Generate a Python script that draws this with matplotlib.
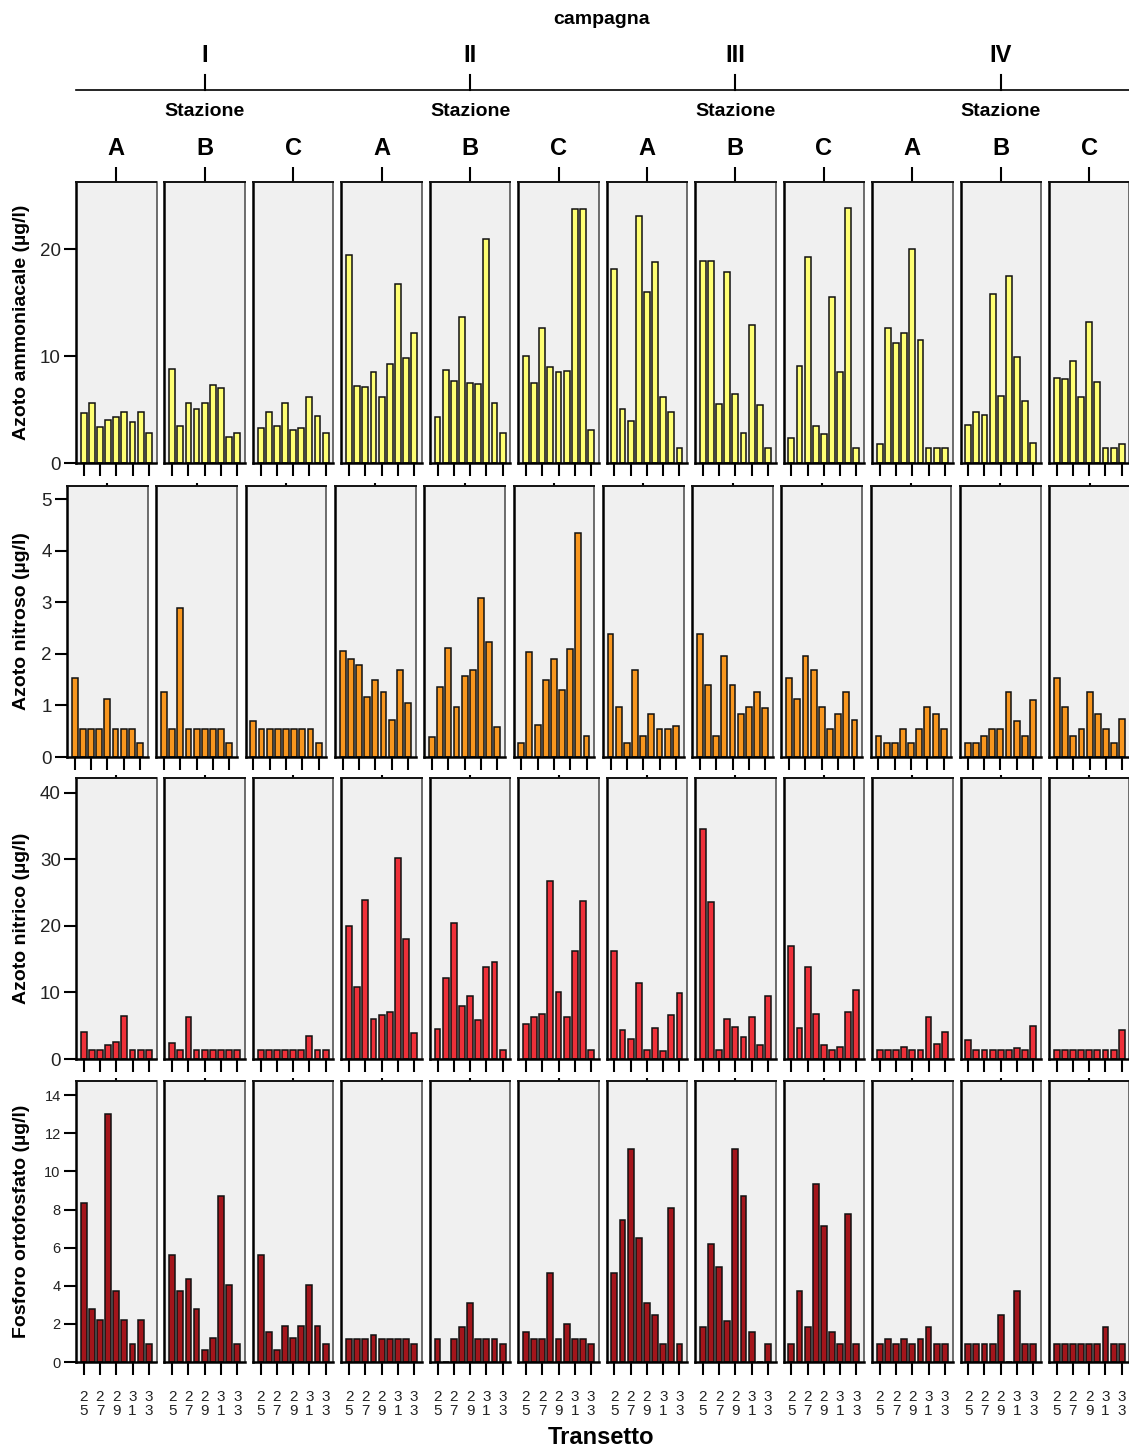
import matplotlib
matplotlib.use("Agg")
import matplotlib.pyplot as plt
from matplotlib.lines import Line2D

W, H = 1129, 1449
DPI = 100

CAMPAGNE = ["I", "II", "III", "IV"]
STAZIONI = ["A", "B", "C"]
TRANSETTI = [25, 26, 27, 28, 29, 30, 31, 32, 33]
TICK_TRANSETTI = [25, 27, 29, 31, 33]
TICK_LABELS = ["2\n5", "2\n7", "2\n9", "3\n1", "3\n3"]

# 12 panels per variable, order I-A, I-B, I-C, II-A, ..., IV-C; 9 transects each
ammoniacale = [
    [4.7, 5.6, 3.4, 4.0, 4.3, 4.8, 3.8, 4.8, 2.8],
    [8.8, 3.5, 5.6, 5.1, 5.6, 7.3, 7.0, 2.4, 2.8],
    [3.3, 4.8, 3.5, 5.6, 3.1, 3.3, 6.2, 4.4, 2.8],
    [19.5, 7.2, 7.1, 8.5, 6.2, 9.3, 16.8, 9.8, 12.2],
    [4.3, 8.7, 7.7, 13.7, 7.5, 7.4, 21.0, 5.6, 2.8],
    [10.0, 7.5, 12.6, 9.0, 8.5, 8.6, 23.8, 23.8, 3.1],
    [18.2, 5.1, 3.9, 23.1, 16.0, 18.8, 6.2, 4.8, 1.4],
    [18.9, 18.9, 5.5, 17.9, 6.5, 2.8, 12.9, 5.4, 1.4],
    [2.3, 9.1, 19.3, 3.5, 2.7, 15.5, 8.5, 23.9, 1.4],
    [1.8, 12.6, 11.2, 12.2, 20.0, 11.5, 1.4, 1.4, 1.4],
    [3.6, 4.8, 4.5, 15.8, 6.3, 17.5, 9.9, 5.8, 1.9],
    [8.0, 7.9, 9.5, 6.2, 13.2, 7.6, 1.4, 1.4, 1.8],
]
nitroso = [
    [1.54, 0.55, 0.55, 0.55, 1.12, 0.55, 0.55, 0.55, 0.27],
    [1.26, 0.55, 2.89, 0.55, 0.55, 0.55, 0.55, 0.55, 0.27],
    [0.70, 0.55, 0.55, 0.55, 0.55, 0.55, 0.55, 0.55, 0.27],
    [2.06, 1.90, 1.79, 1.17, 1.49, 1.26, 0.71, 1.68, 1.05],
    [0.39, 1.36, 2.12, 0.98, 1.58, 1.69, 3.09, 2.24, 0.58],
    [0.27, 2.04, 0.63, 1.49, 1.90, 1.30, 2.10, 4.35, 0.41],
    [2.38, 0.98, 0.27, 1.68, 0.41, 0.84, 0.55, 0.55, 0.60],
    [2.38, 1.40, 0.41, 1.97, 1.40, 0.84, 0.98, 1.26, 0.96],
    [1.54, 1.12, 1.97, 1.68, 0.98, 0.55, 0.84, 1.26, 0.72],
    [0.41, 0.27, 0.27, 0.55, 0.27, 0.55, 0.98, 0.84, 0.55],
    [0.27, 0.27, 0.41, 0.55, 0.55, 1.26, 0.70, 0.41, 1.10],
    [1.54, 0.98, 0.41, 0.55, 1.26, 0.84, 0.55, 0.27, 0.74],
]
nitrico = [
    [4.05, 1.4, 1.4, 2.1, 2.5, 6.5, 1.4, 1.4, 1.4],
    [2.4, 1.4, 6.3, 1.4, 1.4, 1.4, 1.4, 1.4, 1.4],
    [1.4, 1.4, 1.4, 1.4, 1.4, 1.4, 3.4, 1.4, 1.4],
    [19.9, 10.75, 23.9, 6.05, 6.65, 7.0, 30.15, 17.95, 3.9],
    [4.45, 12.1, 20.45, 8.0, 9.5, 5.8, 13.75, 14.6, 1.4],
    [5.25, 6.25, 6.7, 26.8, 10.0, 6.35, 16.15, 23.8, 1.4],
    [16.15, 4.35, 2.95, 11.4, 1.4, 4.65, 1.25, 6.65, 9.9],
    [34.6, 23.55, 1.4, 6.05, 4.8, 3.25, 6.35, 2.1, 9.5],
    [16.95, 4.65, 13.75, 6.75, 2.1, 1.4, 1.75, 7.0, 10.4],
    [1.4, 1.4, 1.4, 1.85, 1.4, 1.4, 6.35, 2.25, 4.05],
    [2.8, 1.4, 1.4, 1.4, 1.4, 1.4, 1.6, 1.4, 4.9],
    [1.4, 1.4, 1.4, 1.4, 1.4, 1.4, 1.4, 1.4, 4.35],
]
ortofosfato = [
    [8.37, 2.8, 2.19, 13.04, 3.74, 2.19, 0.94, 2.19, 0.94],
    [5.6, 3.74, 4.35, 2.8, 0.63, 1.26, 8.7, 4.04, 0.94],
    [5.6, 1.56, 0.63, 1.87, 1.26, 1.87, 4.04, 1.87, 0.94],
    [1.22, 1.22, 1.22, 1.42, 1.22, 1.22, 1.22, 1.22, 0.94],
    [1.22, 0.0, 1.22, 1.85, 3.09, 1.22, 1.22, 1.22, 0.94],
    [1.56, 1.22, 1.22, 4.65, 1.22, 2.01, 1.22, 1.22, 0.94],
    [4.65, 7.45, 11.17, 6.5, 3.09, 2.48, 0.94, 8.08, 0.94],
    [1.85, 6.19, 4.97, 2.17, 11.17, 8.69, 1.56, 0.0, 0.94],
    [0.94, 3.72, 1.85, 9.32, 7.13, 1.56, 0.94, 7.76, 0.94],
    [0.94, 1.22, 0.94, 1.22, 0.94, 1.22, 1.85, 0.94, 0.94],
    [0.94, 0.94, 0.94, 0.94, 2.48, 0.0, 3.72, 0.94, 0.94],
    [0.94, 0.94, 0.94, 0.94, 0.94, 0.94, 1.85, 0.94, 0.94],
]

VARIABILI = [
    ("Azoto ammoniacale (µg/l)", ammoniacale, "#ffff73", 26.3, [0, 10, 20], 13.5),
    ("Azoto nitroso (µg/l)", nitroso, "#f8961e", 5.26, [0, 1, 2, 3, 4, 5], 13.5),
    ("Azoto nitrico (µg/l)", nitrico, "#ee3039", 42.2, [0, 10, 20, 30, 40], 13.5),
    ("Fosforo ortofosfato (µg/l)", ortofosfato, "#a3151b", 14.75, [0, 2, 4, 6, 8, 10, 12, 14], 10.5),
]

# pixel layout of each row: top, bottom, left of first panel, step, panel width
ROWS = [
    (182, 463, 76, 88.45, 80.5),
    (486, 757, 67, 89.3, 80.8),
    (778, 1059, 76, 88.45, 80.5),
    (1081, 1362, 76, 88.45, 80.5),
]

plt.rcParams["font.family"] = ["Liberation Sans", "DejaVu Sans"]


def fx(px):
    return px / W


def fy(py):
    return 1 - py / H


def main():
    fig = plt.figure(figsize=(W / DPI, H / DPI), dpi=DPI)

    for r, (label, data, color, ytop, yticks, ysize) in enumerate(VARIABILI):
        top, bottom, left0, step, width = ROWS[r]
        for p in range(12):
            left = left0 + p * step
            ax = fig.add_axes([fx(left), fy(bottom), width / W, (bottom - top) / H])
            ax.set_facecolor("#f0f0f0")
            ax.bar(TRANSETTI, data[p], width=0.72, color=color, edgecolor="#111111", linewidth=1.1)
            ax.set_xlim(24.05, 33.95)
            ax.set_ylim(0, ytop)
            ax.set_xticks(TICK_TRANSETTI)
            if r == 3:
                ax.set_xticklabels(TICK_LABELS, fontsize=11, linespacing=1.0, color="#222222")
            else:
                ax.set_xticklabels([])
            ax.tick_params(axis="x", length=9, width=1.5, pad=11)
            if p == 0:
                ax.set_yticks(yticks)
                ax.set_yticklabels([str(v) for v in yticks], fontsize=ysize, color="#222222")
                ax.tick_params(axis="y", length=9, width=1.5, pad=2)
            else:
                ax.set_yticks([])
            for side in ("left", "bottom"):
                ax.spines[side].set_linewidth(1.8)
                ax.spines[side].set_color("black")
            ax.spines["top"].set_linewidth(1.4)
            ax.spines["top"].set_color("#111111")
            ax.spines["right"].set_linewidth(1.2)
            ax.spines["right"].set_color("#555555")

            sec = ax.secondary_xaxis("top")
            sec.set_xticks([29])
            sec.set_xticklabels([])
            sec.spines["top"].set_visible(False)
            sec.tick_params(length=11 if r == 0 else 2, width=1.5)

            if r == 0:
                fig.text(fx(left + width / 2), fy(148.5), STAZIONI[p % 3],
                         ha="center", va="center", fontsize=17, fontweight="bold")

        fig.text(fx(22), fy((top + bottom) / 2), label, rotation=90,
                 ha="center", va="center", fontsize=14, fontweight="bold")

    # campaign header
    top, bottom, left0, step, width = ROWS[0]
    fig.add_artist(Line2D([fx(76), fx(1129)], [fy(90), fy(90)], color="black", lw=1.2))
    for k, name in enumerate(CAMPAGNE):
        cx = left0 + (3 * k + 1) * step + width / 2
        fig.add_artist(Line2D([fx(cx), fx(cx)], [fy(75), fy(90)], color="black", lw=1.5))
        fig.text(fx(cx), fy(56), name, ha="center", va="center", fontsize=17, fontweight="bold")
        fig.text(fx(cx), fy(111.5), "Stazione", ha="center", va="center", fontsize=14, fontweight="bold")

    fig.text(fx(602), fy(20), "campagna", ha="center", va="center", fontsize=14, fontweight="bold")
    fig.text(fx(601), fy(1437), "Transetto", ha="center", va="center", fontsize=17, fontweight="bold")

    fig.savefig("out.png", dpi=DPI)
    plt.close(fig)


if __name__ == "__main__":
    main()
